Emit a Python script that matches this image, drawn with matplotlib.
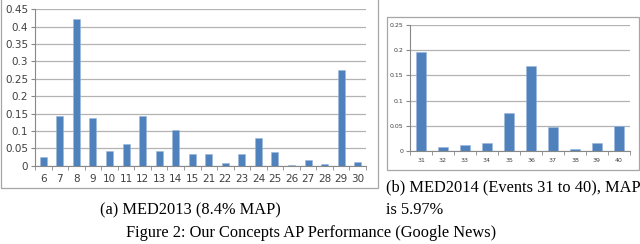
import matplotlib.pyplot as plt
from matplotlib.patches import Rectangle

# MED2013 events and AP values
events_a = ['6', '7', '8', '9', '10', '11', '12', '13', '14', '15',
            '21', '22', '23', '24', '25', '26', '27', '28', '29', '30']
ap_a = [0.025, 0.143, 0.422, 0.137, 0.042, 0.063, 0.143, 0.042, 0.102, 0.033,
        0.033, 0.008, 0.035, 0.080, 0.040, 0.002, 0.016, 0.004, 0.275, 0.010]
yticks_a = [0, 0.05, 0.1, 0.15, 0.2, 0.25, 0.3, 0.35, 0.4, 0.45]

# MED2014 events 31 to 40
events_b = ['31', '32', '33', '34', '35', '36', '37', '38', '39', '40']
ap_b = [0.196, 0.008, 0.012, 0.016, 0.076, 0.168, 0.047, 0.003, 0.016, 0.050]
yticks_b = [0, 0.05, 0.1, 0.15, 0.2, 0.25]

W, H = 640, 244
BLUE = '#4f81bd'
GRID = '#b3b3b3'

fig = plt.figure(figsize=(W / 100, H / 100), dpi=100)


def px_axes(x0, y0, x1, y1):
    # pixel box (top-left origin) -> figure fraction axes
    return fig.add_axes([x0 / W, 1 - y1 / H, (x1 - x0) / W, (y1 - y0) / H])


def frame(x0, y0, x1, y1):
    fig.patches.append(Rectangle((x0 / W, 1 - y1 / H), (x1 - x0) / W, (y1 - y0) / H,
                                 transform=fig.transFigure, fill=False,
                                 edgecolor='#a6a6a6', lw=0.9))


def bar_panel(ax, labels, vals, ticks, width, fs_x, fs_y, pad_x):
    x = range(len(vals))
    ax.bar(x, vals, width=width, color=BLUE, edgecolor='#9bb7dc', lw=0.4, zorder=3)
    ax.set_xlim(-0.5, len(vals) - 0.5)
    ax.set_ylim(0, ticks[-1])
    ax.set_yticks(ticks)
    ax.set_yticklabels([('%g' % t) for t in ticks], fontsize=fs_y, color='#404040')
    ax.set_xticks(list(x))
    ax.set_xticklabels(labels, fontsize=fs_x, color='#404040')
    ax.set_xticks([i + 0.5 for i in range(-1, len(vals))], minor=True)
    ax.tick_params(axis='x', which='major', length=0, pad=pad_x)
    ax.tick_params(axis='x', which='minor', length=3, color='#888888')
    ax.tick_params(axis='y', length=3, color='#888888', pad=2)
    ax.grid(axis='y', color=GRID, lw=0.9, zorder=0)
    for s in ['top', 'right']:
        ax.spines[s].set_visible(False)
    ax.spines['left'].set_color('#888888')
    ax.spines['bottom'].set_color('#888888')


frame(1, -2, 378, 188)
ax1 = px_axes(35, 9.3, 366, 165.7)
bar_panel(ax1, events_a, ap_a, yticks_a, 0.42, 7.5, 7.5, 6)

frame(387, 17, 639, 170)
ax2 = px_axes(410, 25, 630, 151)
bar_panel(ax2, events_b, ap_b, yticks_b, 0.42, 4.5, 4.5, 5)

serif = ['Liberation Serif', 'DejaVu Serif']
fs = 11.8
fig.text(190 / W, 1 - 210 / H, '(a) MED2013 (8.4% MAP)', family=serif,
         fontsize=fs, ha='center', va='center')
fig.text(386 / W, 1 - 187 / H, '(b) MED2014 (Events 31 to 40), MAP', family=serif,
         fontsize=fs, ha='left', va='center')
fig.text(386 / W, 1 - 210 / H, 'is 5.97%', family=serif,
         fontsize=fs, ha='left', va='center')
fig.text(311 / W, 1 - 233 / H, 'Figure 2: Our Concepts AP Performance (Google News)',
         family=serif, fontsize=fs, ha='center', va='center')

fig.savefig('out.png', dpi=100)
